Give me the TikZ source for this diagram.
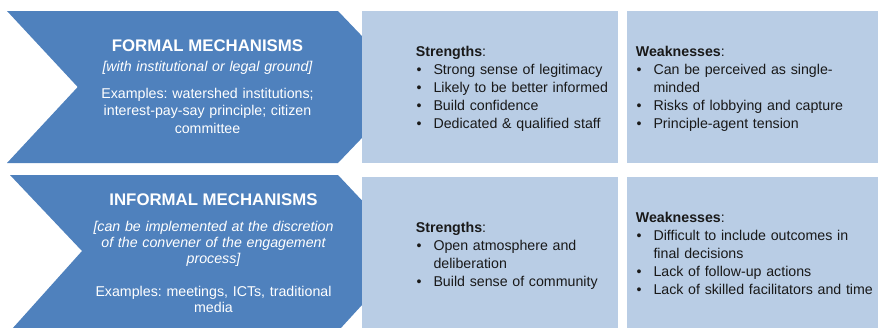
\documentclass[tikz,border=0pt]{standalone}
\usepackage{fontspec}
\setmainfont{Liberation Sans}
\frenchspacing
\definecolor{mechblue}{HTML}{4F81BD}
\definecolor{boxblue}{HTML}{B9CDE5}
\newcommand{\bitem}{\par\hangindent=17.6pt\hangafter=1\noindent\hbox to 17.6pt{\hspace{0.6pt}\textbullet\hfil}}
\begin{document}
\begin{tikzpicture}[x=1pt,y=-1pt,mech shape/.style={fill=mechblue, draw=none},info box/.style={fill=boxblue, draw=none},mech title/.style={font=\fontsize{16.8}{20}\selectfont\bfseries, text=white, anchor=base, inner sep=0pt},mech note/.style={font=\fontsize{14.2}{16}\selectfont\itshape, text=white, text width=300pt, align=center, anchor=base, inner sep=0pt},mech text/.style={font=\fontsize{14.2}{17.5}\selectfont, text=white, text width=300pt, align=center, anchor=base, inner sep=0pt},list text/.style={font=\fontsize{14.2}{18}\selectfont, text=black!90, text width=250pt, align=left, anchor=base west, inner sep=0pt, execute at begin node=\hyphenpenalty 10000\exhyphenpenalty 10000}]%
\useasboundingbox (0,0) rectangle (878,327);%
  % Formal mechanisms%
\fill[mech shape] (7,11) -- (338,11) -- (410.7,87) -- (338,163) -- (7,163) -- (77.7,87) -- cycle;%
\fill[info box] (362,11) rectangle (618,163);%
\fill[info box] (627,11) rectangle (880,163);%
\node[mech title] (ftitle) at (207.5,51.7) {FORMAL MECHANISMS};%
\node[mech note] (fnote) at (207.5,71.7) {[with institutional or legal ground]};%
\node[mech text] (fexamples) at (207.5,98.3) {Examples: watershed institutions;\\ interest-pay-say principle; citizen\\ committee};%
\node[list text] (fstrengths) at (415.7,56) {\textbf{Strengths}:\bitem Strong sense of legitimacy\bitem Likely to be better informed\bitem Build confidence\bitem Dedicated \& qualified staff};%
\node[list text] (fweaknesses) at (635.7,56) {\textbf{Weaknesses}:\bitem Can be perceived as single-\newline minded\bitem Risks of lobbying and capture\bitem Principle-agent tension};%
  % Informal mechanisms%
\fill[mech shape] (10,175) -- (338,175) -- (410.5,252) -- (340,329) -- (12,329) -- (82,251) -- cycle;%
\fill[info box] (362,177) rectangle (618,330);%
\fill[info box] (627,177) rectangle (880,330);%
\node[mech title] (ititle) at (213.5,205.7) {INFORMAL MECHANISMS};%
\node[mech note] (inote) at (213.5,231) {[can be implemented at the discretion\\ of the convener of the engagement\\ process]};%
\node[mech text, font=\fontsize{14.2}{15.7}\selectfont] (iexamples) at (213.5,296.7) {Examples: meetings, ICTs, traditional\\ media};%
\node[list text] (istrengths) at (415.7,232.7) {\textbf{Strengths}:\bitem Open atmosphere and\newline deliberation\bitem Build sense of community};%
\node[list text] (iweaknesses) at (635.7,222.7) {\textbf{Weaknesses}:\bitem Difficult to include outcomes in\newline final decisions\bitem Lack of follow-up actions\bitem Lack of skilled facilitators and time};%
\end{tikzpicture}
\end{document}
